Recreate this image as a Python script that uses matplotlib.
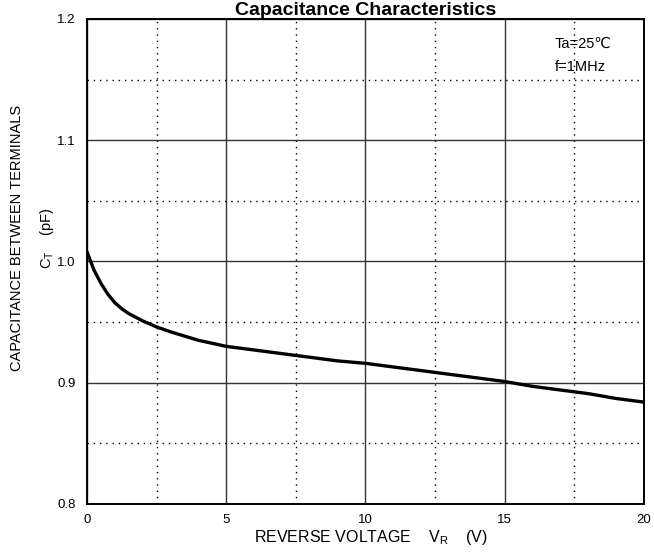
#!/usr/bin/env python3
"""Capacitance vs reverse voltage characteristic (datasheet style)."""

import matplotlib
matplotlib.use("Agg")
import matplotlib.pyplot as plt
from matplotlib.ticker import MultipleLocator

plt.rcParams["font.family"] = ["Liberation Sans", "DejaVu Sans"]
plt.rcParams["mathtext.fontset"] = "custom"
plt.rcParams["mathtext.rm"] = "Liberation Sans"

# Curve
vr = [0, 0.25, 0.5, 0.75, 1, 1.25, 1.5, 2, 2.5, 3, 4, 5, 6, 7, 8, 9, 10,
      11, 12, 13, 14, 15, 16, 17, 18, 19, 20]
ct = [1.008, 0.993, 0.982, 0.973, 0.966, 0.961, 0.957, 0.951, 0.946, 0.942,
      0.935, 0.930, 0.927, 0.924, 0.921, 0.918, 0.916, 0.913, 0.910, 0.907,
      0.904, 0.901, 0.897, 0.894, 0.891, 0.887, 0.884]

x_major = [0, 5, 10, 15, 20]
y_major = [0.8, 0.9, 1.0, 1.1, 1.2]
conditions = ["Ta=25\u2103", "f=1MHz"]

fig = plt.figure(figsize=(6.54, 5.57), dpi=100)
ax = fig.add_axes([0.133, 0.0952, 0.8517, 0.8707])

ax.set_xlim(0, 20)
ax.set_ylim(0.8, 1.2)
ax.set_xticks(x_major)
ax.set_yticks(y_major)
ax.xaxis.set_minor_locator(MultipleLocator(2.5))
ax.yaxis.set_minor_locator(MultipleLocator(0.05))
ax.set_yticklabels([f"{v:.1f}" for v in y_major])
ax.tick_params(which="both", length=0)
ax.tick_params(axis="x", pad=7, labelsize=9.5)
ax.tick_params(axis="y", pad=8, labelsize=9.5)

ax.grid(which="major", color="#333333", lw=1.0, ls="-")
ax.grid(which="minor", color="black", lw=1.0, ls=(0, (1, 3.5)))
ax.set_axisbelow(True)
for sp in ax.spines.values():
    sp.set_linewidth(1.4)
    sp.set_color("black")

ax.plot(vr, ct, color="black", lw=2.4, solid_capstyle="round", zorder=5)

ax.text(16.8, 1.176, conditions[0], fontsize=10.5, va="baseline", ha="left")
ax.text(16.8, 1.157, conditions[1], fontsize=10.5, va="baseline", ha="left")

fig.text(0.559, 0.973, "Capacitance Characteristics", fontsize=14,
         fontweight="bold", ha="center", va="baseline")
fig.text(0.567, 0.027, r"REVERSE VOLTAGE    V$_\mathrm{R}$    (V)",
         fontsize=11.5, ha="center", va="baseline")
fig.text(0.026, 0.572, "CAPACITANCE BETWEEN TERMINALS", fontsize=10.5,
         rotation=90, ha="center", va="center")
fig.text(0.072, 0.572, r"C$_\mathrm{T}$    (pF)", fontsize=10.5,
         rotation=90, ha="center", va="center")

fig.savefig("out.png", dpi=100)
plt.close(fig)
